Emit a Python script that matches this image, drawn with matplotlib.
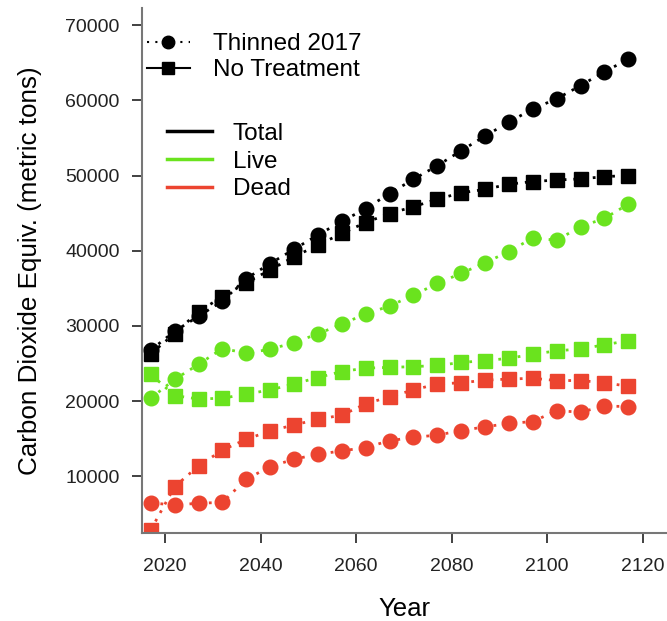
import matplotlib
matplotlib.use("Agg")
import matplotlib.pyplot as plt
from matplotlib.lines import Line2D

plt.rcParams['font.family'] = ['Liberation Sans', 'DejaVu Sans']

years = list(range(2017, 2118, 5))

# Thinned 2017 (circles)
thin_total = [26800, 29300, 31300, 33300, 36300, 38300, 40200, 42100, 43900, 45600,
              47600, 49500, 51300, 53300, 55250, 57100, 58850, 60200, 61950, 63800, 65450]
thin_live = [20400, 22900, 24900, 27000, 26400, 26900, 27800, 28950, 30250, 31600,
             32650, 34100, 35650, 37000, 38400, 39900, 41700, 41400, 43200, 44300, 46200]
thin_dead = [6500, 6200, 6450, 6550, 9650, 11300, 12300, 12950, 13400, 13850,
             14750, 15200, 15500, 16100, 16600, 17050, 17300, 18750, 18550, 19350, 19300]

# No treatment (squares)
nt_total = [26300, 29000, 31900, 33900, 35750, 37450, 39200, 40750, 42300, 43750,
            44950, 45850, 46850, 47700, 48150, 48850, 49200, 49400, 49550, 49850, 50000]
nt_live = [23600, 20750, 20300, 20400, 20950, 21500, 22300, 23150, 23950, 24400,
           24500, 24600, 24750, 25150, 25400, 25700, 26250, 26700, 26950, 27500, 28050]
nt_dead = [2900, 8650, 11400, 13500, 14950, 16050, 16850, 17600, 18150, 19650,
           20600, 21500, 22300, 22450, 22800, 22950, 23050, 22750, 22750, 22450, 22000]

black = '#000000'
green = '#6AE31E'
red = '#EC4430'
dot = (0, (1, 2.5))

fig = plt.figure(figsize=(6.67, 6.21), dpi=100)
ax = fig.add_axes([0.2124, 0.1422, 0.7876, 0.8449])

for vals, c in [(nt_total, black), (nt_live, green), (nt_dead, red)]:
    ax.plot(years, vals, color=c, linestyle=dot, lw=2, marker='s', ms=9.5,
            mec=c, mfc=c)
for vals, c in [(thin_total, black), (thin_live, green), (thin_dead, red)]:
    ax.plot(years, vals, color=c, linestyle=dot, lw=2, marker='o', ms=10.5,
            mec=c, mfc=c)

ax.set_xlim(2015.1, 2125.1)
ax.set_ylim(2530, 72260)
ax.set_xticks([2020, 2040, 2060, 2080, 2100, 2120])
ax.set_yticks([10000, 20000, 30000, 40000, 50000, 60000, 70000])

for s in ['top', 'right']:
    ax.spines[s].set_visible(False)
for s in ['left', 'bottom']:
    ax.spines[s].set_color('#777777')
    ax.spines[s].set_linewidth(1.5)
ax.tick_params(direction='out', length=7.2, width=1.3, color='#333333',
               labelsize=14, labelcolor='#222222')
ax.tick_params(axis='y', pad=8.6)
ax.tick_params(axis='x', pad=11)

ax.set_xlabel('Year', fontsize=18.5, labelpad=16)
ax.set_ylabel('Carbon Dioxide Equiv. (metric tons)', fontsize=18.7, labelpad=17)

h1 = [Line2D([], [], color=black, linestyle=(0, (1, 3)), lw=1.5, marker='o', ms=9),
      Line2D([], [], color=black, linestyle='-', lw=1.5, marker='s', ms=8.5)]
leg1 = ax.legend(h1, ['Thinned 2017', 'No Treatment'], loc='upper left',
                 bbox_to_anchor=(0.0101, 0.952), frameon=False, fontsize=17.5,
                 handlelength=1.77, handletextpad=0.95, labelspacing=0.17,
                 borderpad=0, borderaxespad=0, numpoints=1)
ax.add_artist(leg1)

h2 = [Line2D([], [], color=black, lw=2.5),
      Line2D([], [], color=green, lw=2.5),
      Line2D([], [], color=red, lw=2.5)]
ax.legend(h2, ['Total', 'Live', 'Dead'], loc='upper left',
          bbox_to_anchor=(0.048, 0.781), frameon=False, fontsize=17.5,
          handlelength=1.85, handletextpad=0.86, labelspacing=0.23,
          borderpad=0, borderaxespad=0)

fig.savefig('out.png', dpi=100)
